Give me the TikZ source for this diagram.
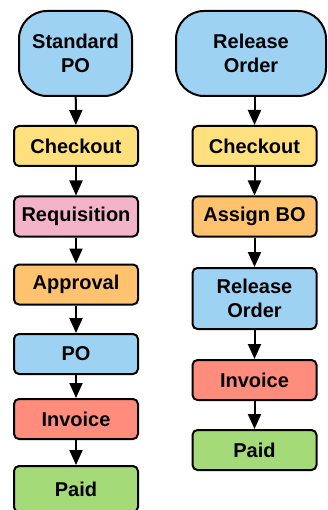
\documentclass[tikz,border=0pt]{standalone}
\usepackage{fontspec}
\setmainfont{Liberation Sans}
\usepackage{tikz}
\usetikzlibrary{arrows.meta,positioning}

\definecolor{poblue}{HTML}{9ED2F2}
\definecolor{poyellow}{HTML}{FFE07E}
\definecolor{popink}{HTML}{F3B4CA}
\definecolor{poorange}{HTML}{FFC36F}
\definecolor{pored}{HTML}{FF8C7C}
\definecolor{pogreen}{HTML}{A5DA78}

\tikzset{
  stepbox/.style={draw, line width=2pt, rounded corners=5pt, align=center,
    minimum width=124pt, minimum height=40pt, inner sep=2pt,
    font=\fontsize{20}{24}\selectfont\bfseries},
  startbox/.style={stepbox, rounded corners=28pt, minimum height=85pt, fill=poblue},
  flow/.style={line width=2pt, -{Triangle[length=15pt,width=13pt]}}
}

\begin{document}
\begin{tikzpicture}[x=1pt,y=-1pt]
                \useasboundingbox (0,0) rectangle (327,510);
                \clip (0,0) rectangle (327,510);
                % standard purchase order
                \node[startbox, minimum width=113pt] (std) at (75.5,53.5) {Standard\\PO};
                \node[stepbox, fill=poyellow] (chkA) at (76,146) {Checkout};
                \node[stepbox, fill=popink] (req) at (76,216.5) {Requisition};
                \node[stepbox, fill=poorange] (appr) at (76,284.5) {Approval};
                \node[stepbox, fill=poblue] (po) at (76,354) {PO};
                \node[stepbox, fill=pored] (invA) at (76,419) {Invoice};
                \node[stepbox, fill=pogreen, minimum height=46pt] (paidA) at (76,489) {Paid};
                % release order against a blanket order
                \node[startbox, minimum width=150pt] (rel) at (251,53.5) {Release\\Order};
                \node[stepbox, fill=poyellow] (chkB) at (254.5,146) {Checkout};
                \node[stepbox, fill=poorange] (bo) at (254.5,216.5) {Assign BO};
                \node[stepbox, fill=poblue, minimum height=61pt] (relord) at (254.5,298.5) {Release\\Order};
                \node[stepbox, fill=pored] (invB) at (254.5,380) {Invoice};
                \node[stepbox, fill=pogreen] (paidB) at (254.5,450) {Paid};
                \foreach \a/\b in {std/chkA, chkA/req, req/appr, appr/po, po/invA, invA/paidA}
                  \draw[flow] (\a) -- (\b);
                \foreach \a/\b in {chkB/bo, bo/relord, relord/invB, invB/paidB}
                  \draw[flow] (\a) -- (\b);
                \draw[flow] (rel.south -| chkB) -- (chkB);
\end{tikzpicture}
\end{document}
